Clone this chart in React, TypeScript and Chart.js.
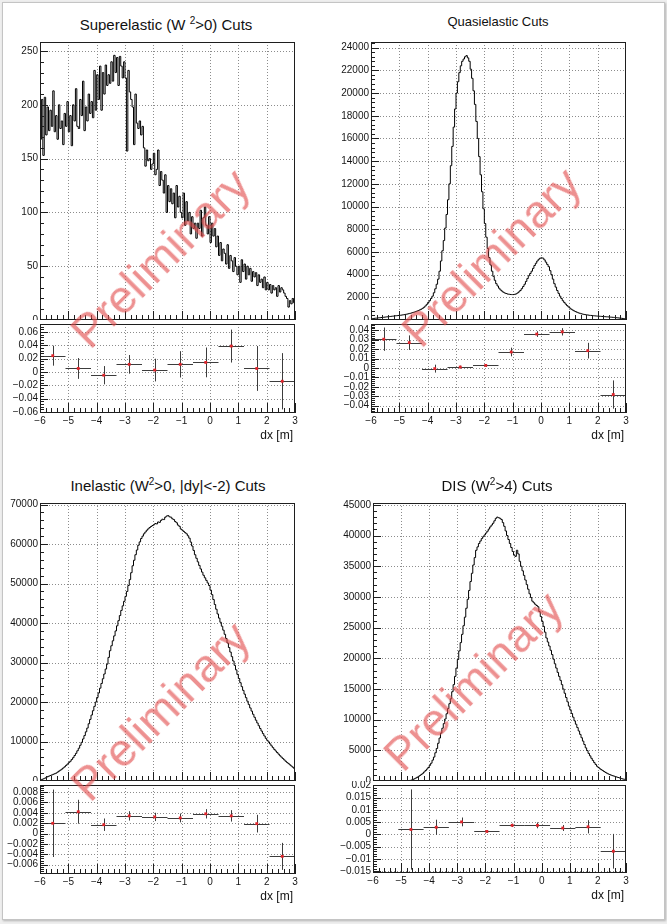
import React, { useEffect, useRef } from 'react';
import { Chart, registerables } from 'chart.js';

Chart.register(...registerables);

const FONT = '"Liberation Sans", Arial, Helvetica, sans-serif';

// ---------------- data ----------------
const X_MIN = -6;
const X_MAX = 3;
const X_TICKS = [-6, -5, -4, -3, -2, -1, 0, 1, 2, 3];

const BIN_W = 0.05;

const SUPER_COUNTS = [
  168, 205, 153, 207, 172, 198, 176, 195, 180, 213, 175, 190, 168, 200, 178, 185, 163, 192, 180, 203,
  175, 190, 162, 200, 185, 215, 180, 178, 205, 190, 222, 176, 198, 185, 210, 192, 203, 188, 232, 195,
  228, 205, 236, 195, 230, 210, 237, 218, 228, 220, 240, 222, 246, 230, 244, 218, 245, 236, 225, 240,
  225, 157, 232, 212, 205, 198, 163, 210, 183, 178, 185, 172, 180, 160, 143, 158, 148, 150, 140, 145,
  155, 135, 140, 158, 125, 138, 130, 118, 135, 100, 125, 110, 122, 108, 118, 95, 125, 105, 115, 100,
  95, 118, 88, 110, 92, 100, 80, 96, 85, 90, 76, 90, 85, 102, 78, 95, 105, 88, 80, 96,
  72, 90, 78, 85, 68, 78, 60, 72, 55, 66, 62, 52, 70, 48, 60, 55, 45, 58, 50, 42,
  50, 35, 56, 45, 52, 38, 50, 42, 48, 36, 45, 40, 44, 32, 42, 35, 38, 30, 40, 28,
  35, 28, 33, 25, 32, 28, 30, 22, 32, 26, 30, 28, 25, 22, 20, 12, 18, 15, 20, 16,
];

const QUASI_COUNTS = [
  120, 130, 145, 160, 175, 190, 205, 220, 235, 250, 265, 280, 295, 310, 325, 340, 355, 370, 385, 400,
  415, 430, 450, 470, 495, 520, 550, 580, 615, 650, 690, 730, 780, 830, 890, 950, 1030, 1120, 1240, 1380,
  1550, 1700, 1900, 2100, 2400, 2750, 3150, 3600, 4300, 5200, 6100, 7000, 8100, 9300, 10600, 12000, 13600, 15300, 17000, 18600,
  20000, 21000, 21800, 22400, 22800, 23000, 23200, 23300, 23100, 22800, 22100, 21300, 20200, 19000, 17500, 16000, 14400, 12800, 11300, 9800,
  8500, 7300, 6300, 5500, 4850, 4300, 3850, 3500, 3200, 3000, 2800, 2650, 2550, 2450, 2380, 2330, 2290, 2270, 2250, 2240,
  2240, 2260, 2300, 2380, 2480, 2600, 2760, 2950, 3150, 3400, 3650, 3900, 4100, 4300, 4550, 4800, 5000, 5200, 5350, 5450,
  5480, 5450, 5300, 5100, 4900, 4700, 4350, 4000, 3600, 3200, 2900, 2600, 2350, 2100, 1900, 1700, 1550, 1400, 1270, 1150,
  1050, 950, 870, 800, 740, 680, 630, 590, 550, 520, 490, 470, 450, 430, 410, 400, 385, 370, 360, 350,
  340, 330, 320, 310, 300, 290, 280, 270, 260, 250, 240, 230, 215, 200, 185, 170, 155, 140, 125, 110,
];

const INEL_COUNTS = [
  300, 400, 550, 700, 900, 1100, 1250, 1400, 1550, 1700, 1850, 2000, 2250, 2500, 2750, 3000, 3300, 3600, 3950, 4300,
  4650, 5000, 5450, 5900, 6450, 7000, 7650, 8300, 9050, 9800, 10650, 11500, 12450, 13400, 14500, 15600, 16700, 17800, 18900, 20000,
  21150, 22300, 23500, 24700, 25900, 27100, 28350, 29600, 31300, 33000, 34250, 35500, 36750, 38000, 39300, 40600, 41900, 43200, 44350, 45500,
  46750, 48000, 49500, 51000, 52750, 54500, 55900, 57300, 58500, 59700, 60550, 61400, 62000, 62600, 63050, 63500, 63850, 64200, 64450, 64700,
  64900, 65200, 65100, 65600, 65500, 66000, 66300, 66200, 66800, 67100, 67200, 66900, 66800, 66400, 66200, 65700, 65400, 64800, 64500, 63800,
  63550, 63200, 62900, 62600, 62100, 61500, 60500, 59500, 58400, 57300, 56400, 55500, 54600, 53700, 52900, 52100, 51450, 50800, 50150, 49500,
  48350, 47200, 45950, 44700, 43500, 42300, 41250, 40200, 39200, 38200, 37150, 36100, 34950, 33800, 32650, 31500, 30400, 29300, 28150, 27000,
  25950, 24900, 23900, 22950, 22000, 21100, 20200, 19350, 18500, 17700, 16900, 16150, 15400, 14700, 14000, 13300, 12650, 12000, 11400, 10800,
  10300, 9900, 9400, 8900, 8450, 8000, 7600, 7200, 6800, 6400, 6050, 5700, 5350, 5000, 4700, 4400, 4100, 3800, 3500, 3200,
];

const DIS_COUNTS = [
  0, 0, 0, 0, 0, 0, 0, 0, 0, 0, 0, 0, 0, 0, 0, 0, 0, 0, 0, 0,
  0, 0, 0, 0, 20, 50, 100, 150, 250, 350, 470, 600, 750, 900, 1070, 1250, 1470, 1700, 1950, 2200,
  2550, 2900, 3400, 3900, 4600, 5300, 6150, 7000, 7800, 8600, 9350, 10100, 10950, 11800, 12600, 13400, 14550, 15700, 17050, 18400,
  19800, 21200, 22550, 23900, 25300, 26700, 28150, 29600, 31050, 32500, 33850, 35200, 36400, 37600, 38150, 38700, 39100, 39500, 39800, 40100,
  40400, 40700, 41050, 41400, 41700, 42000, 42400, 42800, 43000, 42900, 42800, 42600, 42100, 41500, 40750, 40000, 39350, 38700, 38050, 37400,
  36800, 36600, 37600, 37000, 35800, 35000, 34250, 33500, 32750, 32000, 31250, 30500, 29900, 29300, 29050, 28800, 28600, 28400, 27600, 26800,
  26000, 25200, 24250, 23300, 22650, 22000, 21300, 20600, 19850, 19100, 18400, 17700, 17050, 16400, 15700, 15000, 14300, 13600, 12900, 12200,
  11600, 11000, 10400, 9800, 9250, 8700, 8150, 7600, 7050, 6500, 5950, 5400, 4950, 4500, 4100, 3700, 3350, 3000, 2700, 2400,
  2200, 2000, 1850, 1700, 1550, 1400, 1270, 1150, 1050, 950, 870, 800, 720, 650, 570, 500, 420, 350, 300, 250,
];

const SUPER_Y_TICKS = [0, 50, 100, 150, 200, 250];
const QUASI_Y_TICKS = [0, 2000, 4000, 6000, 8000, 10000, 12000, 14000, 16000, 18000, 20000, 22000, 24000];
const INEL_Y_TICKS = [0, 10000, 20000, 30000, 40000, 50000, 60000, 70000];
const DIS_Y_TICKS = [0, 5000, 10000, 15000, 20000, 25000, 30000, 35000, 40000, 45000];

const RATIO_X = [-5.55, -4.65, -3.75, -2.85, -1.95, -1.05, -0.15, 0.75, 1.65, 2.55];
const RATIO_X_HALF = 0.45;

const SUPER_RATIO = [0.0245, 0.0053, -0.0048, 0.0115, 0.0029, 0.0115, 0.0144, 0.0389, 0.0053, -0.0139];
const SUPER_RATIO_ERR = [0.015, 0.0156, 0.0137, 0.014, 0.017, 0.0197, 0.0223, 0.0247, 0.0336, 0.0422];
const QUASI_RATIO = [0.0306, 0.0269, -0.0007, 0.001, 0.0027, 0.017, 0.036, 0.0384, 0.0184, -0.0282];
const QUASI_RATIO_ERR = [0.0124, 0.0077, 0.0042, 0.0015, 0.0015, 0.0046, 0.003, 0.0039, 0.0083, 0.015];
const INEL_RATIO = [0.00197, 0.0042, 0.0017, 0.0034, 0.0032, 0.003, 0.0038, 0.0034, 0.0019, -0.0044];
const INEL_RATIO_ERR = [0.0065, 0.0023, 0.0012, 0.0009, 0.0008, 0.00085, 0.0009, 0.0011, 0.0017, 0.0026];
const DIS_RATIO = [null, 0.002, 0.0029, 0.0051, 0.0012, 0.0037, 0.0037, 0.0026, 0.0031, -0.0069];
const DIS_RATIO_ERR = [null, 0.0164, 0.0031, 0.0018, 0.0005, 0.0007, 0.0012, 0.0012, 0.0027, 0.0071];

const SUPER_R_TICKS = [-0.06, -0.04, -0.02, 0, 0.02, 0.04, 0.06];
const QUASI_R_TICKS = [-0.04, -0.03, -0.02, -0.01, 0, 0.01, 0.02, 0.03, 0.04];
const INEL_R_TICKS = [-0.006, -0.004, -0.002, 0, 0.002, 0.004, 0.006, 0.008];
const DIS_R_TICKS = [-0.015, -0.01, -0.005, 0, 0.005, 0.01, 0.015, 0.02];

const TITLES = [
  { pre: 'Superelastic (W ', sup: '2', post: '>0) Cuts' },
  { pre: 'Quasielastic Cuts', sup: '', post: '' },
  { pre: 'Inelastic (W', sup: '2', post: '>0, |dy|<-2) Cuts' },
  { pre: 'DIS (W', sup: '2', post: '>4) Cuts' },
];
const X_LABEL = 'dx [m]';
const WATERMARK = 'Preliminary';

// ---------------- layout ----------------
const PANELS = [
  {
    title: TITLES[0], titleSize: 15, titleX: 166, titleY: 24,
    x0: 40, x1: 295, yTop: 42, yMid: 320, yBot: 413,
    counts: SUPER_COUNTS, yMax: 258.4, yTicks: SUPER_Y_TICKS, yMajor: 50,
    ratio: SUPER_RATIO, ratioErr: SUPER_RATIO_ERR, rMin: -0.0615, rMax: 0.072, rTicks: SUPER_R_TICKS, rMajor: 0.02,
    wm: [160, 258],
  },
  {
    title: TITLES[1], titleSize: 13, titleX: 498, titleY: 21,
    x0: 371, x1: 626, yTop: 42, yMid: 320, yBot: 413,
    counts: QUASI_COUNTS, yMax: 24500, yTicks: QUASI_Y_TICKS, yMajor: 2000,
    ratio: QUASI_RATIO, ratioErr: QUASI_RATIO_ERR, rMin: -0.0478, rMax: 0.0467, rTicks: QUASI_R_TICKS, rMajor: 0.01,
    wm: [491, 257],
  },
  {
    title: TITLES[2], titleSize: 15, titleX: 168, titleY: 485,
    x0: 40, x1: 295, yTop: 503, yMid: 781, yBot: 874,
    counts: INEL_COUNTS, yMax: 70400, yTicks: INEL_Y_TICKS, yMajor: 10000,
    ratio: INEL_RATIO, ratioErr: INEL_RATIO_ERR, rMin: -0.0078, rMax: 0.00935, rTicks: INEL_R_TICKS, rMajor: 0.002,
    wm: [160, 711],
  },
  {
    title: TITLES[3], titleSize: 15, titleX: 497, titleY: 485,
    x0: 373, x1: 626, yTop: 503, yMid: 781, yBot: 873,
    counts: DIS_COUNTS, yMax: 45300, yTicks: DIS_Y_TICKS, yMajor: 5000,
    ratio: DIS_RATIO, ratioErr: DIS_RATIO_ERR, rMin: -0.0158, rMax: 0.0202, rTicks: DIS_R_TICKS, rMajor: 0.005,
    wm: [473, 681],
  },
];

const AXIS_W = 40;
const PAD_R = 6;
const PAD_T = 8;
const XLAB_H = 16;

function fmt(v: number): string {
  if (Math.abs(v) < 1e-12) return '0';
  return String(parseFloat(v.toPrecision(6))).replace('-', '\u2212');
}

function steps(min: number, max: number, step: number): number[] {
  const out: number[] = [];
  const a = Math.ceil(min / step - 1e-6);
  const b = Math.floor(max / step + 1e-6);
  for (let n = a; n <= b; n++) out.push(n * step);
  return out;
}
function isMult(v: number, step: number) {
  const r = v / step;
  return Math.abs(r - Math.round(r)) < 1e-6;
}

function makeRootAxes(cfg: any) {
  return {
    id: 'rootAxes',
    beforeDatasetsDraw(chart: any) {
      const { ctx, chartArea: a, scales } = chart;
      const xs = scales.x;
      const ys = scales.y;
      ctx.save();
      ctx.beginPath();
      ctx.rect(a.left, a.top, a.right - a.left, a.bottom - a.top);
      ctx.clip();
      ctx.strokeStyle = '#8c8c8c';
      ctx.lineWidth = 1;
      ctx.setLineDash([1, 2]);
      ctx.beginPath();
      for (const v of steps(xs.min, xs.max, cfg.xMajor)) {
        if (v <= xs.min + 1e-9 || v >= xs.max - 1e-9) continue;
        const px = Math.round(xs.getPixelForValue(v)) + 0.5;
        ctx.moveTo(px, a.top);
        ctx.lineTo(px, a.bottom);
      }
      for (const v of steps(ys.min, ys.max, cfg.yMajor)) {
        if (v <= ys.min + 1e-12 || v >= ys.max - 1e-12) continue;
        const py = Math.round(ys.getPixelForValue(v)) + 0.5;
        ctx.moveTo(a.left, py);
        ctx.lineTo(a.right, py);
      }
      ctx.stroke();
      ctx.setLineDash([]);
      if (cfg.errors) {
        ctx.strokeStyle = '#3c3c3c';
        ctx.lineWidth = 1;
        ctx.beginPath();
        cfg.errors.forEach((e: any) => {
          if (e.y == null) return;
          const px = Math.round(xs.getPixelForValue(e.x)) + 0.5;
          const py = Math.round(ys.getPixelForValue(e.y)) + 0.5;
          ctx.moveTo(xs.getPixelForValue(e.x - e.xe), py);
          ctx.lineTo(xs.getPixelForValue(e.x + e.xe), py);
          ctx.moveTo(px, ys.getPixelForValue(e.y + e.ye));
          ctx.lineTo(px, ys.getPixelForValue(e.y - e.ye));
        });
        ctx.stroke();
      }
      ctx.restore();
    },
    afterDatasetsDraw(chart: any) {
      const { ctx, chartArea: a, scales } = chart;
      const xs = scales.x;
      const ys = scales.y;
      ctx.save();
      ctx.strokeStyle = '#1e1e1e';
      ctx.lineWidth = 1;
      ctx.setLineDash([]);
      ctx.beginPath();
      for (const v of steps(xs.min, xs.max, cfg.xMajor / 5)) {
        const len = isMult(v, cfg.xMajor) ? cfg.xLen[0] : cfg.xLen[1];
        const px = Math.round(xs.getPixelForValue(v)) + 0.5;
        ctx.moveTo(px, a.bottom);
        ctx.lineTo(px, a.bottom - len);
      }
      for (const v of steps(ys.min, ys.max, cfg.yMajor / 5)) {
        const len = isMult(v, cfg.yMajor) ? cfg.yLen[0] : cfg.yLen[1];
        const py = Math.round(ys.getPixelForValue(v)) + 0.5;
        ctx.moveTo(a.left, py);
        ctx.lineTo(a.left + len, py);
      }
      ctx.stroke();
      ctx.strokeRect(a.left + 0.5, a.top + 0.5, a.right - a.left - 1, a.bottom - a.top - 1);
      ctx.restore();
    },
  };
}

function histPoints(counts: number[], w: number) {
  const pts = counts.map((c, i) => ({ x: X_MIN + i * w, y: c }));
  pts.push({ x: X_MIN + counts.length * w, y: counts[counts.length - 1] });
  return pts;
}

const tickFont = { family: FONT, size: 10 };
const TICK_COLOR = '#151515';

function yScale(min: number, max: number, ticks: number[]) {
  return {
    type: 'linear',
    min,
    max,
    grid: { display: false, drawTicks: false },
    border: { display: false },
    ticks: {
      font: tickFont,
      color: TICK_COLOR,
      padding: 2,
      autoSkip: false,
      callback: (v: any) => fmt(Number(v)),
    },
    afterBuildTicks: (s: any) => {
      s.ticks = ticks.map((v) => ({ value: v }));
    },
    afterFit: (s: any) => {
      s.width = AXIS_W;
      s.paddingTop = 0;
      s.paddingBottom = 0;
    },
  };
}

function Panel({ p }: { p: any }) {
  const mainRef = useRef<HTMLCanvasElement | null>(null);
  const ratioRef = useRef<HTMLCanvasElement | null>(null);

  const cw = p.x1 - p.x0 + AXIS_W + PAD_R;
  const mainH = p.yMid - p.yTop + PAD_T;
  const ratioH = p.yBot - p.yMid + XLAB_H;

  useEffect(() => {
    const main = new Chart(mainRef.current as HTMLCanvasElement, {
      type: 'line',
      data: {
        datasets: [
          {
            data: histPoints(p.counts, BIN_W),
            borderColor: '#000',
            borderWidth: 1,
            pointRadius: 0,
            stepped: true,
            fill: false,
            tension: 0,
          } as any,
        ],
      },
      options: {
        animation: false,
        responsive: false,
        devicePixelRatio: 1,
        events: [],
        layout: { padding: { top: PAD_T, right: PAD_R, left: 0, bottom: 0 } },
        plugins: { legend: { display: false }, tooltip: { enabled: false }, title: { display: false } },
        scales: {
          x: {
            type: 'linear',
            min: X_MIN,
            max: X_MAX,
            display: false,
            afterFit: (s: any) => {
              s.paddingLeft = 0;
              s.paddingRight = 0;
            },
          },
          y: yScale(0, p.yMax, p.yTicks),
        } as any,
      },
      plugins: [makeRootAxes({ xMajor: 1, yMajor: p.yMajor, xLen: [9, 5], yLen: [8, 4] })],
    });

    const errors = RATIO_X.map((x, i) => ({ x, xe: RATIO_X_HALF, y: p.ratio[i], ye: p.ratioErr[i] }));
    const pts = RATIO_X.map((x, i) => ({ x, y: p.ratio[i] })).filter((q) => q.y != null);
    const ratio = new Chart(ratioRef.current as HTMLCanvasElement, {
      type: 'scatter',
      data: {
        datasets: [
          {
            data: pts,
            pointStyle: 'rect',
            pointRadius: 2,
            backgroundColor: '#e0242b',
            borderWidth: 0,
          } as any,
        ],
      },
      options: {
        animation: false,
        responsive: false,
        devicePixelRatio: 1,
        events: [],
        layout: { padding: { top: 0, right: PAD_R, left: 0, bottom: 0 } },
        plugins: { legend: { display: false }, tooltip: { enabled: false }, title: { display: false } },
        scales: {
          x: {
            type: 'linear',
            min: X_MIN,
            max: X_MAX,
            grid: { display: false, drawTicks: false },
            border: { display: false },
            ticks: {
              font: tickFont,
              color: TICK_COLOR,
              padding: 2,
              autoSkip: false,
              maxRotation: 0,
              callback: (v: any) => fmt(Number(v)),
            },
            afterBuildTicks: (s: any) => {
              s.ticks = X_TICKS.map((v) => ({ value: v }));
            },
            afterFit: (s: any) => {
              s.height = XLAB_H;
              s.paddingLeft = 0;
              s.paddingRight = 0;
            },
          },
          y: yScale(p.rMin, p.rMax, p.rTicks),
        } as any,
      },
      plugins: [makeRootAxes({ xMajor: 1, yMajor: p.rMajor, xLen: [10, 5], yLen: [8, 4], errors })],
    });

    return () => {
      main.destroy();
      ratio.destroy();
    };
  }, []);

  return (
    <>
      <canvas
        ref={mainRef}
        width={cw}
        height={mainH}
        style={{ position: 'absolute', left: p.x0 - AXIS_W, top: p.yTop - PAD_T, width: cw, height: mainH }}
      />
      <canvas
        ref={ratioRef}
        width={cw}
        height={ratioH}
        style={{ position: 'absolute', left: p.x0 - AXIS_W, top: p.yMid, width: cw, height: ratioH }}
      />
      <div
        style={{
          position: 'absolute',
          left: p.titleX,
          top: p.titleY,
          transform: 'translate(-50%, -50%)',
          fontSize: p.titleSize,
          lineHeight: 1,
          whiteSpace: 'nowrap',
          color: '#111',
        }}
      >
        {p.title.pre}
        {p.title.sup ? (
          <span style={{ fontSize: Math.round(p.titleSize * 0.68), position: 'relative', top: -p.titleSize * 0.38 }}>
            {p.title.sup}
          </span>
        ) : null}
        {p.title.post}
      </div>
      <div
        style={{
          position: 'absolute',
          left: p.x1 - 2,
          top: p.yBot + 22,
          transform: 'translate(-100%, -50%)',
          fontSize: 12,
          lineHeight: 1,
          whiteSpace: 'nowrap',
          color: '#111',
        }}
      >
        {X_LABEL}
      </div>
      <div
        style={{
          position: 'absolute',
          left: p.wm[0],
          top: p.wm[1],
          transform: 'translate(-50%, -50%) rotate(-45deg)',
          fontSize: 46,
          lineHeight: 1,
          whiteSpace: 'nowrap',
          color: 'rgba(226, 76, 76, 0.62)',
          pointerEvents: 'none',
        }}
      >
        {WATERMARK}
      </div>
    </>
  );
}

export default function App() {
  return (
    <div
      style={{
        position: 'absolute',
        left: 0,
        top: 0,
        width: 667,
        height: 924,
        overflow: 'hidden',
        background: '#eeeeee',
        fontFamily: FONT,
      }}
    >
      <div
        style={{
          position: 'absolute',
          left: 2,
          top: 2,
          width: 661,
          height: 916,
          background: '#ffffff',
          border: '1px solid #c4c4c4',
          boxShadow: '1px 1px 2px rgba(0,0,0,0.25)',
        }}
      />
      {PANELS.map((p, i) => (
        <Panel key={i} p={p} />
      ))}
    </div>
  );
}
